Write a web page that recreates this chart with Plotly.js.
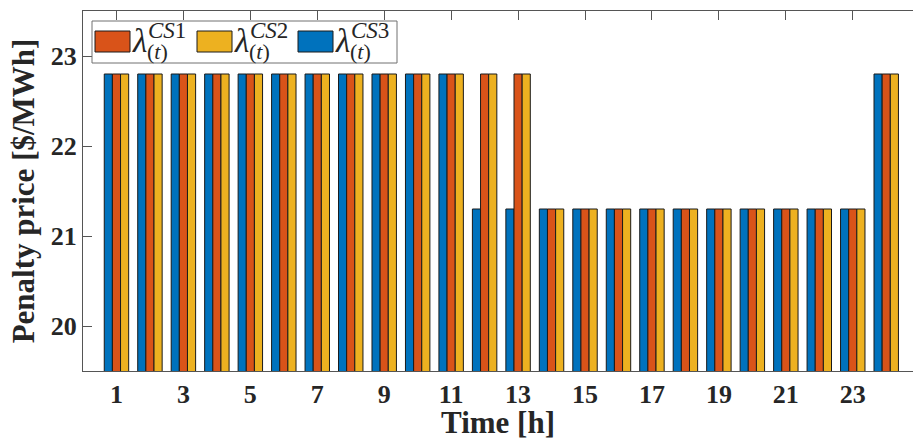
<!DOCTYPE html>
<html>
<head>
<meta charset="utf-8">
<script src="https://cdn.plot.ly/plotly-3.0.1.min.js"></script>
<style>
  html, body { margin: 0; padding: 0; background: #fff; }
  #chart { width: 913px; height: 440px; }
</style>
</head>
<body>
<div id="chart"></div>
<script>
// Hourly penalty prices for the three charging stations
const hours = [1,2,3,4,5,6,7,8,9,10,11,12,13,14,15,16,17,18,19,20,21,22,23,24];
const priceCS1 = [22.8,22.8,22.8,22.8,22.8,22.8,22.8,22.8,22.8,22.8,22.8,22.8,22.8,21.3,21.3,21.3,21.3,21.3,21.3,21.3,21.3,21.3,21.3,22.8];
const priceCS2 = [22.8,22.8,22.8,22.8,22.8,22.8,22.8,22.8,22.8,22.8,22.8,22.8,22.8,21.3,21.3,21.3,21.3,21.3,21.3,21.3,21.3,21.3,21.3,22.8];
const priceCS3 = [22.8,22.8,22.8,22.8,22.8,22.8,22.8,22.8,22.8,22.8,22.8,21.3,21.3,21.3,21.3,21.3,21.3,21.3,21.3,21.3,21.3,21.3,21.3,22.8];
const xTicks = [1,3,5,7,9,11,13,15,17,19,21,23];
const yTicks = [20,21,22,23];

const colBlue = '#0072BD', colOrange = '#D95319', colYellow = '#EDB120';
const edge = { color: '#1a1a1a', width: 1 };
const serif = 'Liberation Serif, Times New Roman, serif';
const ink = '#262626';

// group order within each hour: CS3, CS1, CS2
const traces = [
  { name: 'CS3', x: hours, y: priceCS3, color: colBlue },
  { name: 'CS1', x: hours, y: priceCS1, color: colOrange },
  { name: 'CS2', x: hours, y: priceCS2, color: colYellow }
].map(s => ({
  type: 'bar', name: s.name, x: s.x, y: s.y,
  marker: { color: s.color, line: edge },
  showlegend: false, hoverinfo: 'x+y'
}));

// figure geometry (pixels) used to place the hand-built legend
const W = 913, H = 440;
const M = { l: 83, r: 0, t: 11, b: 69 };
const plotW = W - M.l - M.r, plotH = H - M.t - M.b;
const px = v => (v - M.l) / plotW;
const py = v => (H - M.b - v) / plotH;

// legend: swatch + λ with stacked super/subscripts
const legendItems = [
  { sup: '<i>CS</i>1', color: colOrange, x0: 95 },
  { sup: '<i>CS</i>2', color: colYellow, x0: 197 },
  { sup: '<i>CS</i>3', color: colBlue, x0: 298 }
];
const shapes = [
  { type: 'rect', xref: 'paper', yref: 'paper', x0: px(92), x1: px(397), y0: py(63), y1: py(21),
    line: { color: '#707070', width: 1 }, fillcolor: '#fff', layer: 'above' }
];
const annotations = [];
legendItems.forEach(it => {
  shapes.push({ type: 'rect', xref: 'paper', yref: 'paper',
    x0: px(it.x0), x1: px(it.x0 + 35), y0: py(52), y1: py(31),
    line: edge, fillcolor: it.color, layer: 'above' });
  annotations.push({ xref: 'paper', yref: 'paper', x: px(it.x0 + 36), y: py(41),
    xanchor: 'left', yanchor: 'middle', showarrow: false, text: '<i>λ</i>',
    font: { family: serif, size: 33, color: ink }, borderpad: 0 });
  annotations.push({ xref: 'paper', yref: 'paper', x: px(it.x0 + 52), y: py(30),
    xanchor: 'left', yanchor: 'middle', showarrow: false, text: it.sup,
    font: { family: serif, size: 23, color: ink }, borderpad: 0 });
  annotations.push({ xref: 'paper', yref: 'paper', x: px(it.x0 + 51), y: py(51),
    xanchor: 'left', yanchor: 'middle', showarrow: false, text: '(<i>t</i>)',
    font: { family: serif, size: 22, color: ink }, borderpad: 0 });
});

const layout = {
  width: W, height: H,
  margin: M,
  paper_bgcolor: '#fff', plot_bgcolor: '#fff',
  barmode: 'group', bargap: 0.27, bargroupgap: 0,
  font: { family: serif, color: ink },
  xaxis: {
    range: [0, 24.8], tickvals: xTicks, ticktext: xTicks.map(String),
    ticks: 'inside', ticklen: 9, tickcolor: '#555', tickwidth: 1,
    showline: true, linecolor: '#555', linewidth: 1, mirror: 'ticks',
    showgrid: false, zeroline: false, layer: 'below traces',
    tickfont: { family: serif, size: 26, weight: 'bold', color: ink },
    title: { text: 'Time [h]', standoff: 2, font: { family: serif, size: 31, weight: 'bold', color: ink } }
  },
  yaxis: {
    range: [19.5, 23.5], tickvals: yTicks, ticktext: yTicks.map(String),
    ticks: 'inside', ticklen: 9, tickcolor: '#555', tickwidth: 1,
    showline: true, linecolor: '#555', linewidth: 1, mirror: false,
    showgrid: false, zeroline: false,
    tickfont: { family: serif, size: 26, weight: 'bold', color: ink },
    title: { text: 'Penalty price [$/MWh]', standoff: 6, font: { family: serif, size: 31, weight: 'bold', color: ink } }
  },
  shapes: shapes,
  annotations: annotations
};

Plotly.newPlot('chart', traces, layout, { displayModeBar: false, staticPlot: true });
</script>
</body>
</html>
